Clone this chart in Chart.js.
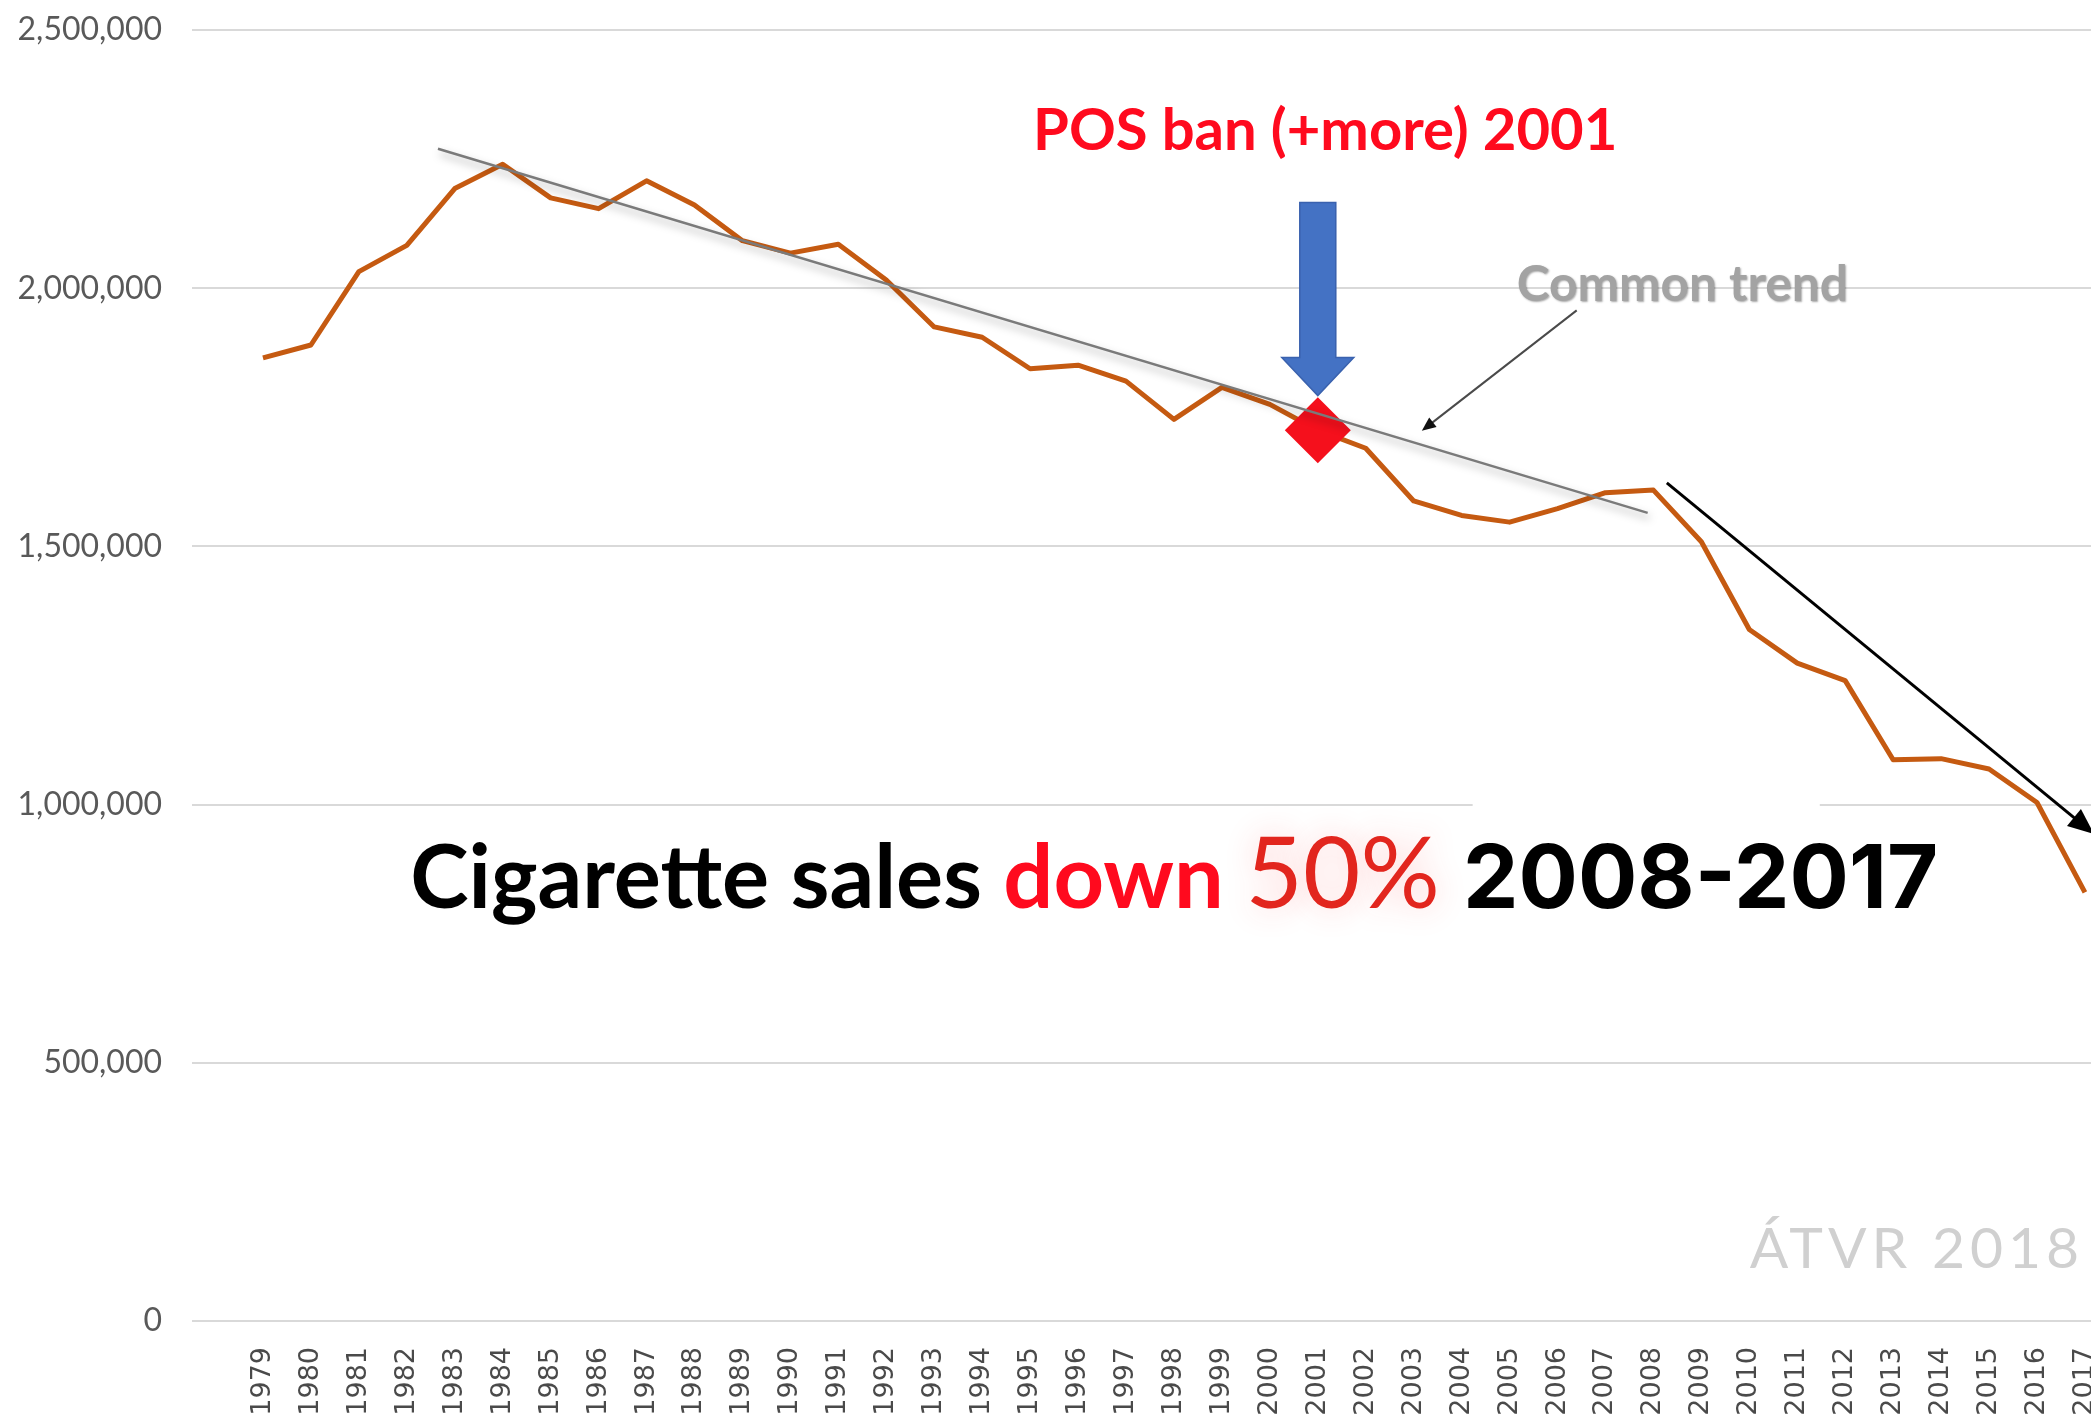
<!DOCTYPE html>
<html>
<head>
<meta charset="utf-8">
<title>Cigarette sales 1979-2017</title>
<script src="https://cdn.jsdelivr.net/npm/chart.js@4.4.1/dist/chart.umd.min.js"></script>
<style>
  html, body { margin: 0; padding: 0; background: #fff; overflow: hidden; }
  /* the source picture is cropped on the right, so the chart is a bit wider than the window */
  #wrap { width: 2130px; height: 1421px; }
</style>
</head>
<body>
<div id="wrap"><canvas id="salesChart"></canvas></div>
<script>
// Cigarette sales (units), ÁTVR
const years = [1979, 1980, 1981, 1982, 1983, 1984, 1985, 1986, 1987, 1988,
               1989, 1990, 1991, 1992, 1993, 1994, 1995, 1996, 1997, 1998,
               1999, 2000, 2001, 2002, 2003, 2004, 2005, 2006, 2007, 2008,
               2009, 2010, 2011, 2012, 2013, 2014, 2015, 2016, 2017];
const sales = [1865000, 1890000, 2032000, 2083000, 2193000, 2240000, 2175000, 2154000, 2208000, 2161000,
               2092000, 2068000, 2085000, 2016000, 1925000, 1905000, 1844000, 1851000, 1820000, 1746000,
               1808000, 1775000, 1725000, 1690000, 1588000, 1560000, 1547000, 1573000, 1604000, 1609000,
               1509000, 1339000, 1274000, 1240000, 1087000, 1089000, 1069000, 1004000, 830000];
const yTickValues = [0, 500000, 1000000, 1500000, 2000000, 2500000];

// hand-drawn "common trend" line
const trendYears = [1982.65, 2007.88];
const trendValues = [2270000, 1565000];

const banYear = 2001;
const banIndex = years.indexOf(banYear);

// annotation anchors, in data units
const blueArrow = { year: 2001, top: 2166000, neck: 1866000, tip: 1792000, shaft: 36, head: 72 };
const salesArrow = { from: [2008.28, 1623000], to: [2017.19, 943000] };
const trendPointer = { from: [2006.40, 1957000], to: [2003.17, 1724000] };
const gridGap = { from: 2004.23, to: 2011.47, value: 1000000 };

function fitFont(ctx, text, weight, family, width) {
    ctx.font = weight + ' 100px ' + family;
    const size = 100 * width / ctx.measureText(text).width;
    return weight + ' ' + size.toFixed(1) + 'px ' + family;
}

function arrow(ctx, x1, y1, x2, y2, len, half) {
    const a = Math.atan2(y2 - y1, x2 - x1);
    const bx = x2 - Math.cos(a) * len, by = y2 - Math.sin(a) * len;
    ctx.beginPath();
    ctx.moveTo(x1, y1);
    ctx.lineTo(bx + Math.cos(a) * 2, by + Math.sin(a) * 2);
    ctx.stroke();
    ctx.beginPath();
    ctx.moveTo(x2, y2);
    ctx.lineTo(bx - Math.sin(a) * half, by + Math.cos(a) * half);
    ctx.lineTo(bx + Math.sin(a) * half, by - Math.cos(a) * half);
    ctx.closePath();
    ctx.fill();
}

const annotations = {
    id: 'annotations',
    beforeDatasetsDraw(chart) {
        const { ctx, scales: { x, y } } = chart;
        // white patch over the 1,000,000 gridline (pasted box in the source)
        ctx.save();
        ctx.fillStyle = '#fff';
        const gy = y.getPixelForValue(gridGap.value);
        ctx.fillRect(x.getPixelForValue(gridGap.from), gy - 5, x.getPixelForValue(gridGap.to) - x.getPixelForValue(gridGap.from), 10);
        ctx.restore();
    },
    beforeDatasetDraw(chart, args) {
        if (args.index !== 0) return;
        const ctx = chart.ctx;
        ctx.save();
        ctx.shadowColor = 'rgba(0,0,0,0.35)';
        ctx.shadowBlur = 8;
        ctx.shadowOffsetX = 2;
        ctx.shadowOffsetY = 5;
    },
    afterDatasetDraw(chart, args) {
        if (args.index === 0) chart.ctx.restore();
    },
    afterDatasetsDraw(chart) {
        const { ctx, scales: { x, y } } = chart;
        ctx.save();

        // blue block arrow pointing at 2001
        const cx = x.getPixelForValue(blueArrow.year);
        const top = y.getPixelForValue(blueArrow.top);
        const neck = y.getPixelForValue(blueArrow.neck);
        const tip = y.getPixelForValue(blueArrow.tip);
        ctx.beginPath();
        ctx.moveTo(cx - blueArrow.shaft / 2, top);
        ctx.lineTo(cx + blueArrow.shaft / 2, top);
        ctx.lineTo(cx + blueArrow.shaft / 2, neck);
        ctx.lineTo(cx + blueArrow.head / 2, neck);
        ctx.lineTo(cx, tip);
        ctx.lineTo(cx - blueArrow.head / 2, neck);
        ctx.lineTo(cx - blueArrow.shaft / 2, neck);
        ctx.closePath();
        ctx.fillStyle = '#4472C4';
        ctx.fill();
        ctx.strokeStyle = '#3A62AE';
        ctx.lineWidth = 1.5;
        ctx.stroke();

        // black arrow along the 2008-2017 decline
        ctx.strokeStyle = '#000';
        ctx.fillStyle = '#000';
        ctx.lineWidth = 3;
        arrow(ctx, x.getPixelForValue(salesArrow.from[0]), y.getPixelForValue(salesArrow.from[1]),
              x.getPixelForValue(salesArrow.to[0]), y.getPixelForValue(salesArrow.to[1]), 26, 11);

        // pointer from "Common trend" label
        ctx.strokeStyle = '#4a4a4a';
        ctx.fillStyle = '#111';
        ctx.lineWidth = 2;
        arrow(ctx, x.getPixelForValue(trendPointer.from[0]), y.getPixelForValue(trendPointer.from[1]),
              x.getPixelForValue(trendPointer.to[0]), y.getPixelForValue(trendPointer.to[1]), 14, 6);

        ctx.textBaseline = 'alphabetic';
        ctx.textAlign = 'left';

        // POS ban title
        ctx.font = fitFont(ctx, 'POS ban (+more) 2001', 'bold', 'Lato', 584);
        ctx.fillStyle = '#FF0A1E';
        ctx.fillText('POS ban (+more) 2001', x.getPixelForValue(1995.06), y.getPixelForValue(2268000));

        // Common trend label
        ctx.save();
        ctx.font = fitFont(ctx, 'Common trend', 'bold', 'Lato', 331);
        ctx.shadowColor = 'rgba(0,0,0,0.35)';
        ctx.shadowBlur = 2;
        ctx.shadowOffsetX = 1;
        ctx.shadowOffsetY = 1;
        ctx.fillStyle = '#A3A3A3';
        ctx.fillText('Common trend', x.getPixelForValue(2005.15), y.getPixelForValue(1976000));
        ctx.restore();

        // headline
        const base = y.getPixelForValue(800000);
        let hx = x.getPixelForValue(1982.07);
        ctx.font = fitFont(ctx, 'Cigarette sales down', 'bold', 'Lato', 814);
        ctx.fillStyle = '#000';
        ctx.fillText('Cigarette sales ', hx, base);
        hx += ctx.measureText('Cigarette sales ').width;
        ctx.fillStyle = '#FF0A1E';
        ctx.fillText('down', hx, base);

        ctx.save();
        ctx.font = 'normal 99px Lato';
        ctx.shadowColor = 'rgba(255,60,60,0.25)';
        ctx.shadowBlur = 30;
        ctx.fillStyle = '#E2261E';
        ctx.textAlign = 'center';
        ctx.fillText('50%', x.getPixelForValue(2001.52), base);
        ctx.restore();

        ctx.font = fitFont(ctx, '2008-2017', 'bold', 'Inter', 475);
        ctx.fillStyle = '#000';
        ctx.fillText('2008-2017', x.getPixelForValue(2004.03), base);

        // source watermark
        ctx.font = 'normal 57px Lato';
        ctx.letterSpacing = '5px';
        ctx.fillStyle = '#D0D0D0';
        ctx.fillText('ÁTVR 2018', x.getPixelForValue(2010.01), y.getPixelForValue(102700));

        ctx.restore();
    }
};

const salesCanvas = document.getElementById('salesChart');
new Chart(salesCanvas, {
    type: 'line',
    data: {
        datasets: [
            {
                label: 'Common trend',
                data: trendYears.map((yr, i) => ({ x: yr, y: trendValues[i] })),
                borderColor: '#7A7A7A',
                borderWidth: 2.5,
                pointRadius: 0
            },
            {
                label: 'POS ban',
                data: [{ x: years[banIndex], y: sales[banIndex] }],
                showLine: false,
                pointStyle: 'rectRot',
                pointRadius: 33,
                pointBackgroundColor: '#F5101C',
                pointBorderWidth: 0
            },
            {
                label: 'Cigarette sales',
                data: years.map((yr, i) => ({ x: yr, y: sales[i] })),
                borderColor: '#C55A11',
                borderWidth: 5,
                borderJoinStyle: 'round',
                pointRadius: 0,
                tension: 0
            }
        ]
    },
    options: {
        responsive: true,
        maintainAspectRatio: false,
        animation: false,
        layout: { autoPadding: false, padding: { top: 30, left: 0, right: 0, bottom: 0 } },
        plugins: { legend: { display: false }, tooltip: { enabled: false } },
        scales: {
            x: {
                type: 'linear',
                min: 1977.52,
                max: 2017.94,
                grid: { display: false },
                border: { display: false },
                afterBuildTicks: (scale) => { scale.ticks = years.map(v => ({ value: v })); },
                afterFit: (scale) => {
                    scale.height = 100;
                    scale.paddingLeft = 0;
                    scale.paddingRight = 0;
                },
                ticks: {
                    autoSkip: false,
                    minRotation: 90,
                    maxRotation: 90,
                    padding: 18,
                    color: '#4a4a4a',
                    font: { family: 'DejaVu Sans', size: 27 },
                    callback: (v) => String(v)
                }
            },
            y: {
                min: 0,
                max: 2500000,
                grid: { color: '#D9D9D9', lineWidth: 2, drawTicks: false },
                border: { display: false },
                afterBuildTicks: (scale) => { scale.ticks = yTickValues.map(v => ({ value: v })); },
                afterFit: (scale) => {
                    scale.width = 192;
                    scale.paddingTop = 0;
                    scale.paddingBottom = 0;
                },
                ticks: {
                    padding: 30,
                    color: '#595959',
                    font: { family: 'Lato', size: 32 },
                    callback: (v) => v.toLocaleString('en-US')
                }
            }
        }
    },
    plugins: [annotations]
});
</script>
</body>
</html>
